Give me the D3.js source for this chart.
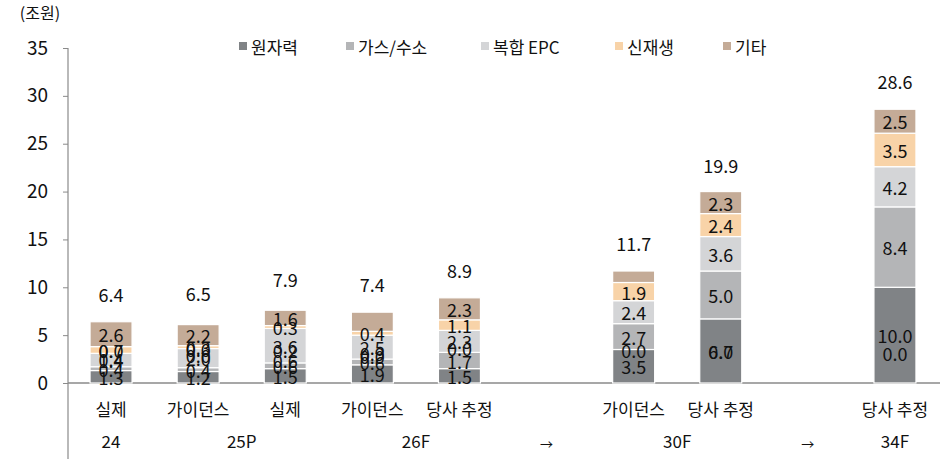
<!DOCTYPE html>
<html><head><meta charset="utf-8">
<script src="https://cdn.jsdelivr.net/npm/d3@7"></script>
<style>
body{margin:0;background:#fff}
svg{display:block}
text{font-family:"Noto Sans CJK KR","Noto Sans",sans-serif;fill:#111}
</style></head><body>
<svg id="c" width="946" height="459"></svg>
<script>
// ---- data ----
const slots = ["24 실제","25P 가이던스","25P 실제","26F 가이던스","26F 당사 추정","gap1","30F 가이던스","30F 당사 추정","gap2","34F 당사 추정"];
const subLabels = ["실제","가이던스","실제","가이던스","당사 추정","","가이던스","당사 추정","","당사 추정"];
const groupLabels = ["24","25P","26F","→","30F","→","34F"];
const groupSpans = [[0,0],[1,2],[3,4],[5,5],[6,7],[8,8],[9,9]];
const seriesNames = ["원자력","가스/수소","복합 EPC","신재생","기타"];
const nuclear = [1.3, 1.2, 1.5, 1.9, 1.5, null, 3.5, 6.7, null, 10.0];
const gasH2   = [0.4, 0.4, 0.6, 0.6, 1.7, null, 2.7, 5.0, null, 8.4];
const epc     = [1.4, 2.0, 3.6, 2.5, 2.3, null, 2.4, 3.6, null, 4.2];
const renew   = [0.7, 0.3, 0.3, 0.4, 1.1, null, 1.9, 2.4, null, 3.5];
const etc     = [2.6, 2.2, 1.6, 2.0, 2.3, null, 1.2, 2.3, null, 2.5];
const totals  = [6.4, 6.5, 7.9, 7.4, 8.9, null, 11.7, 19.9, null, 28.6];
// data points whose label is not shown in the source
const unlabeled = [["기타","26F 가이던스"],["기타","30F 가이던스"]];
// label-only hidden series (no fill): stacked level and shown text
const ghostAt   = [[2.5,3.45],[2.9,3.6],[3.45,2.4],[3.1,2.8],[3.66],[],[3.5],[3.35],[],[3.1]];
const ghostText = [["0.4","0.0"],["0.0","0.0"],["0.2","0.6"],["0.9","0.0"],["0.0"],[],["0.0"],["0.0"],[],["0.0"]];
const yTicks = [0,5,10,15,20,25,30,35];
const colors = ["#808386","#b4b5b7","#d4d5d7","#f8d3a8","#c4ab97"];

// ---- chart ----
const svg = d3.select("#c");
const x = d3.scaleBand().domain(slots).range([67.5, 938.5]).paddingInner(0).paddingOuter(0);
const y = d3.scaleLinear().domain([0,35]).range([383,48]);
const barW = 42;
const cx = s => x(s) + x.bandwidth()/2;

const vals = [nuclear, gasH2, epc, renew, etc];
const rows = slots.map((s,i)=>{
  const r = {slot:s, gap: nuclear[i]==null};
  seriesNames.forEach((n,k)=> r[n] = vals[k][i] ?? 0);
  return r;
});
const stack = d3.stack().keys(seriesNames)(rows);

// axes lines
svg.append("line").attr("x1",68).attr("x2",68).attr("y1",y(35)).attr("y2",459)
  .attr("stroke","#8a8a8a").attr("stroke-width",1.2);
svg.append("line").attr("x1",68).attr("x2",940).attr("y1",y(0)).attr("y2",y(0))
  .attr("stroke","#8a8a8a").attr("stroke-width",1.6);
const yAxis = d3.axisLeft(y).tickValues(yTicks).tickSize(5).tickPadding(15);
const ga = svg.append("g").attr("transform","translate(68,0)").call(yAxis);
ga.select(".domain").remove();
ga.selectAll(".tick line").attr("stroke","#8a8a8a");
ga.selectAll(".tick text").attr("font-size",19).attr("fill","#111")
  .style("font-family",'"Noto Sans CJK KR","Noto Sans",sans-serif');

svg.append("text").attr("x",40).attr("y",19).attr("text-anchor","middle")
  .attr("font-size",16).text("(조원)");

// bars
stack.forEach((layer,k)=>{
  const g = svg.append("g");
  layer.forEach((d,i)=>{
    if (rows[i].gap) return;
    g.append("rect").attr("x",cx(slots[i])-barW/2).attr("width",barW)
      .attr("y",y(d[1])).attr("height",Math.max(0,y(d[0])-y(d[1])))
      .attr("fill",colors[k]).attr("stroke","#fff").attr("stroke-width",1.2);
  });
});
// labels
stack.forEach((layer,k)=>{
  layer.forEach((d,i)=>{
    if (rows[i].gap) return;
    const name = seriesNames[k];
    if (unlabeled.some(u=>u[0]===name && u[1]===slots[i])) return;
    svg.append("text").attr("x",cx(slots[i])).attr("y",y((d[0]+d[1])/2))
      .attr("text-anchor","middle").attr("dominant-baseline","central")
      .attr("font-size",18).text(d3.format(".1f")(vals[k][i]));
  });
});
ghostAt.forEach((arr,i)=>{
  arr.forEach((lv,j)=>{
    svg.append("text").attr("x",cx(slots[i])).attr("y",y(lv))
      .attr("text-anchor","middle").attr("dominant-baseline","central")
      .attr("font-size",18).text(ghostText[i][j]);
  });
});
// totals
totals.forEach((t,i)=>{
  if (t==null) return;
  svg.append("text").attr("x",cx(slots[i])).attr("y",y(t)-28)
    .attr("text-anchor","middle").attr("dominant-baseline","central")
    .attr("font-size",18).text(d3.format(".1f")(t));
});
// category labels
subLabels.forEach((s,i)=>{
  if (!s) return;
  svg.append("text").attr("x",cx(slots[i])).attr("y",408)
    .attr("text-anchor","middle").attr("dominant-baseline","central")
    .attr("font-size",17).text(s);
});
groupLabels.forEach((g,i)=>{
  const [a,b] = groupSpans[i];
  const xm = (cx(slots[a])+cx(slots[b]))/2;
  svg.append("text").attr("x",xm).attr("y",g==="→"?443:440)
    .attr("text-anchor","middle").attr("dominant-baseline","central")
    .attr("font-size",g==="→"?13:17).text(g);
});
// legend
const legX = [243,350,485,619,727];
seriesNames.forEach((n,k)=>{
  svg.append("rect").attr("x",legX[k]-4).attr("y",42).attr("width",8).attr("height",8).attr("fill",colors[k]);
  svg.append("text").attr("x",legX[k]+8).attr("y",46).attr("dominant-baseline","central")
    .attr("font-size",17).text(n);
});
</script></body></html>
